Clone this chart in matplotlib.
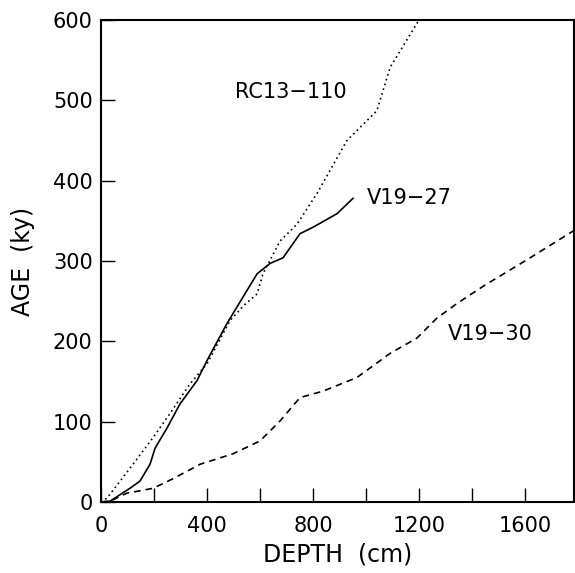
import matplotlib
matplotlib.use("Agg")
import matplotlib.pyplot as plt
from matplotlib.ticker import MultipleLocator

# depth (cm) / age (ky)
rc13_depth = [0, 23, 121, 196, 260, 336, 400, 487, 540, 589, 611, 676, 740, 815, 928, 1041, 1091, 1200]
rc13_age = [0, 5, 47, 80, 110, 147, 172, 226, 245, 259, 284, 325, 346, 384, 450, 487, 541, 600]

v1927_depth = [0, 34, 109, 147, 185, 204, 249, 298, 362, 400, 475, 589, 638, 687, 751, 800, 891, 951]
v1927_age = [0, 1, 17, 26, 47, 67, 92, 122, 151, 176, 222, 284, 297, 304, 334, 342, 359, 378]

v1930_depth = [0, 34, 98, 196, 272, 374, 498, 562, 600, 676, 751, 838, 966, 1091, 1192, 1268, 1343, 1449, 1600, 1785]
v1930_age = [0, 1, 11, 17, 29, 47, 60, 70, 76, 101, 130, 138, 155, 185, 204, 229, 247, 270, 300, 338]

plt.rcParams["font.family"] = ["DejaVu Sans"]

fig = plt.figure(figsize=(5.75, 5.73), dpi=100)
ax = fig.add_axes([101 / 575, 71 / 573, 473 / 575, 482 / 573])

ax.plot(rc13_depth, rc13_age, color="black", lw=1.2, ls=(0, (1, 2)))
ax.plot(v1927_depth, v1927_age, color="black", lw=1.2, ls="-")
ax.plot(v1930_depth, v1930_age, color="black", lw=1.2, ls=(0, (4, 3)))

ax.text(506, 510, "RC13\u2212110", fontsize=15, ha="left", va="center")
ax.text(1004, 379, "V19\u221227", fontsize=15, ha="left", va="center")
ax.text(1310, 209, "V19\u221230", fontsize=15, ha="left", va="center")

ax.set_xlim(0, 1785)
ax.set_ylim(0, 600)
ax.xaxis.set_major_locator(MultipleLocator(400))
ax.xaxis.set_minor_locator(MultipleLocator(200))
ax.yaxis.set_major_locator(MultipleLocator(100))

ax.tick_params(axis="both", which="both", direction="in", length=10, width=1.0,
               labelsize=15, top=False, right=False)
ax.tick_params(axis="x", pad=10)
ax.tick_params(axis="y", pad=6)

for s in ax.spines.values():
    s.set_linewidth(1.5)

ax.set_xlabel("DEPTH  (cm)", fontsize=17, labelpad=5)
ax.set_ylabel("AGE  (ky)", fontsize=17, labelpad=13)

fig.savefig("out.png", dpi=100)
